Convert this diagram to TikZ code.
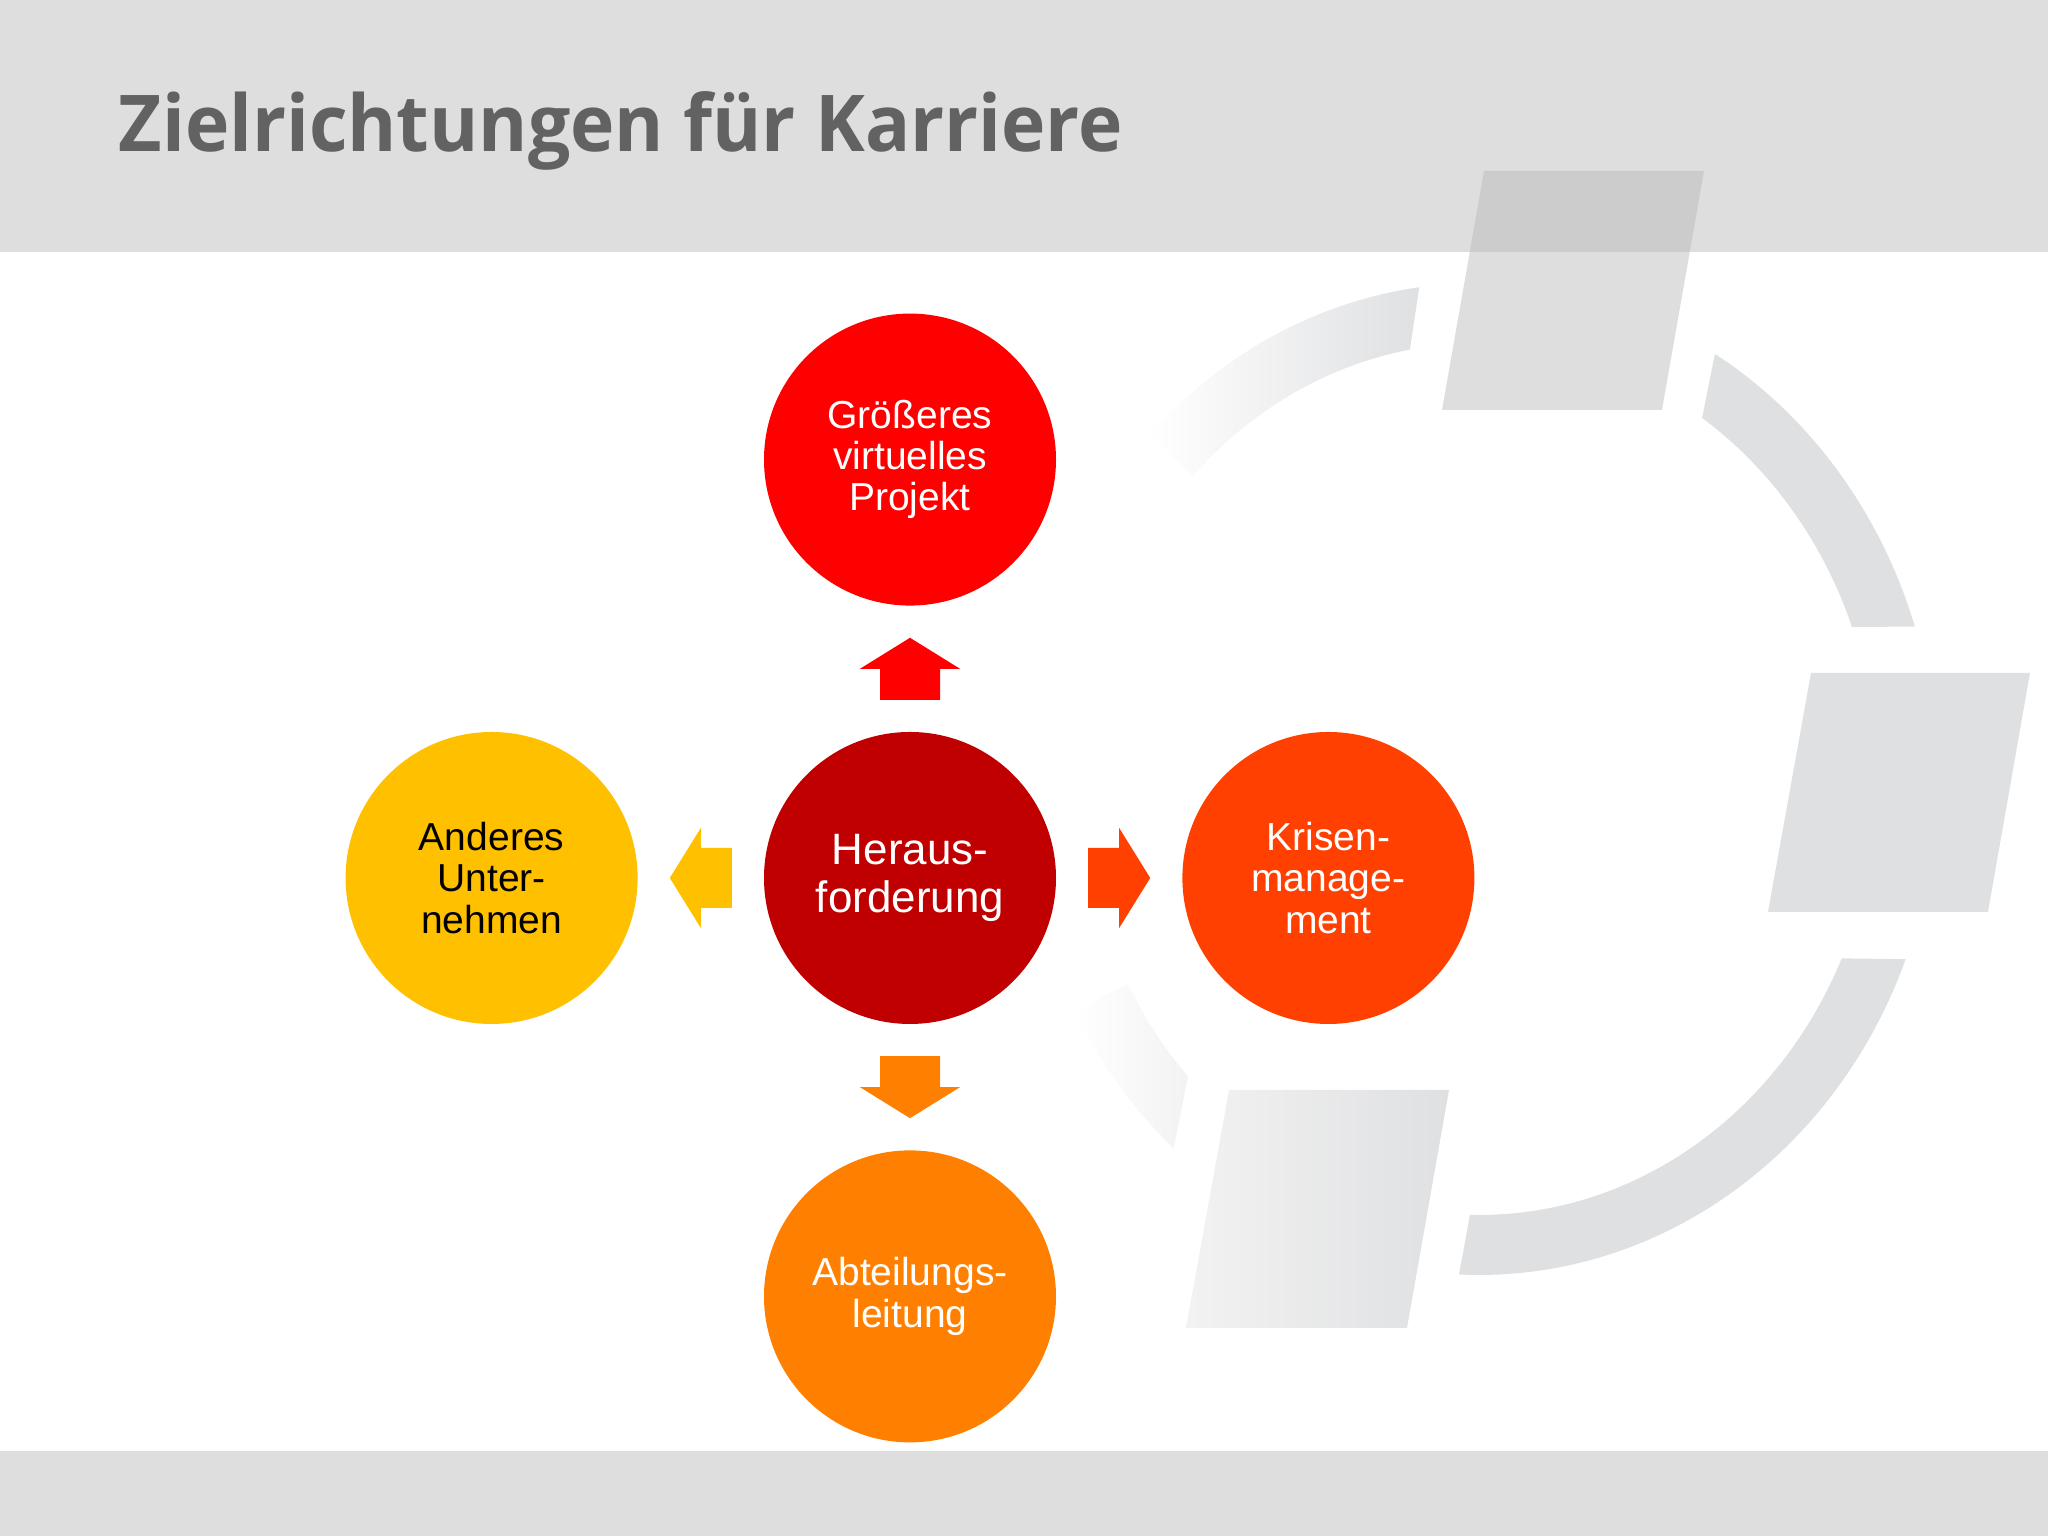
\documentclass[tikz,border=0pt]{standalone}
\usepackage{fontspec}
\usepackage{graphicx}
\setmainfont{Liberation Sans}
\newfontfamily\titlefont{Open Sans}
\usetikzlibrary{positioning,calc}

\definecolor{bandgray}{RGB}{222,222,222}
\definecolor{ringgray}{RGB}{223,224,226}
\definecolor{titlegray}{RGB}{98,98,98}
\definecolor{cRed}{RGB}{255,0,0}
\definecolor{cDark}{RGB}{192,0,0}
\definecolor{cCrisis}{RGB}{255,64,0}
\definecolor{cOrange}{RGB}{255,128,0}
\definecolor{cAmber}{RGB}{255,192,0}

\tikzset{
  bubble/.style={circle, minimum size=2.92cm, inner sep=0pt, align=center, text=white,
    font=\fontsize{11.1}{11.7}\selectfont},
}

% block arrow pointing right, centred on the base of its head
\newcommand{\blkarrow}[3]{%
  \fill[#3, shift={(#1)}, rotate=#2] (-0.31,-0.30) -- (0,-0.30) -- (0,-0.50) -- (0.31,0)
     -- (0,0.50) -- (0,0.30) -- (-0.31,0.30) -- cycle;}

\begin{document}
\begin{tikzpicture}[node distance=1.25cm]
\useasboundingbox (0,0) rectangle (20.48,15.36);
% bands
\fill[bandgray] (0,12.84) rectangle (20.48,15.36);
\fill[bandgray] (0,0) rectangle (20.48,0.85);
\node[anchor=base west, inner sep=0pt, text=titlegray,
      font=\titlefont\bfseries\fontsize{22.3}{24}\selectfont] (title) at (1.18,13.84) {\scalebox{0.957}[1]{Zielrichtungen für Karriere}};

% ring in the background
\begin{scope}[shift={(14.79,7.57)}]
\shade[left color=white, right color=ringgray] (97.5:4.58 and 4.96)
   arc[start angle=97.5, end angle=136, x radius=4.58, y radius=4.96]
   -- (136:3.98 and 4.36) arc[start angle=136, end angle=100, x radius=3.98, y radius=4.36] -- cycle;
\fill[ringgray] (59:4.58 and 4.96)
   arc[start angle=59, end angle=17.9, x radius=4.58, y radius=4.96]
   -- (20.4:3.98 and 4.36) arc[start angle=20.4, end angle=55.9, x radius=3.98, y radius=4.36] -- cycle;
\fill[ringgray] (-21.3:4.58 and 4.96)
   arc[start angle=-21.3, end angle=-92.5, x radius=4.58, y radius=4.96]
   -- (-91.3:3.98 and 4.36) arc[start angle=-91.3, end angle=-24.3, x radius=3.98, y radius=4.36] -- cycle;
\shade[left color=white, right color=ringgray!40] (-131.8:4.58 and 4.96)
   arc[start angle=-131.8, end angle=-152, x radius=4.58, y radius=4.96]
   -- (-152:3.98 and 4.36) arc[start angle=-152, end angle=-137, x radius=3.98, y radius=4.36] -- cycle;
\end{scope}
% parallelograms
\fill[black!28, fill opacity=0.46] (14.84,13.65) -- (17.04,13.65) -- (16.62,11.26) -- (14.42,11.26) -- cycle;
\fill[ringgray] (18.11,8.63) -- (20.30,8.63) -- (19.88,6.24) -- (17.68,6.24) -- cycle;
\shade[left color=black!5, right color=ringgray] (12.29,4.46) -- (14.49,4.46) -- (14.07,2.08) -- (11.86,2.08) -- cycle;

% circles
\node[bubble, fill=cDark, font=\fontsize{12.5}{13.4}\selectfont] (ctr) at (9.10,6.58) {Heraus-\\forderung};
\node[bubble, fill=cRed, above=of ctr] (proj) {Größeres\\virtuelles\\Projekt};
\node[bubble, fill=cCrisis, right=of ctr] (krise) {Krisen-\\manage-\\ment};
\node[bubble, fill=cOrange, below=of ctr] (abt) {Abteilungs-\\leitung};
\node[bubble, fill=cAmber, text=black, left=of ctr] (unt) {Anderes\\Unter-\\nehmen};

% arrows
\blkarrow{$(ctr)!0.5!(proj)$}{90}{cRed}
\blkarrow{$(ctr)!0.5!(krise)$}{0}{cCrisis}
\blkarrow{$(ctr)!0.5!(abt)$}{-90}{cOrange}
\blkarrow{$(ctr)!0.5!(unt)$}{180}{cAmber}
\end{tikzpicture}
\end{document}
